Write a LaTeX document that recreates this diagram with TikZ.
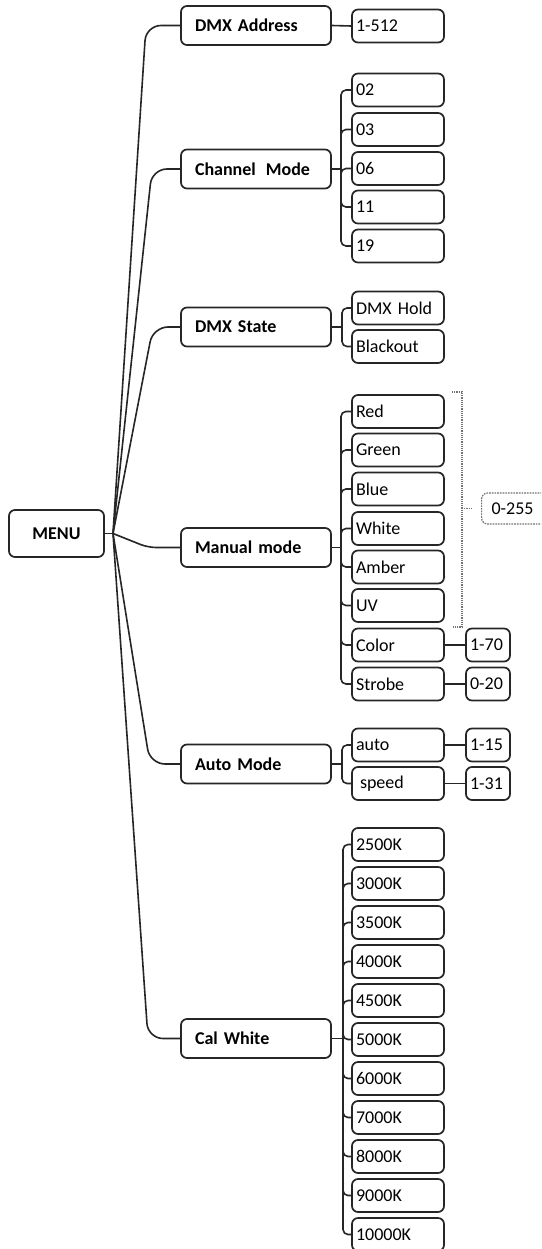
\documentclass[tikz,border=0pt]{standalone}
\usepackage{fontspec}
\setmainfont{Carlito}
\begin{document}
\begin{tikzpicture}[x=1pt,y=-1pt]
\tikzset{
  box/.style={draw=black!85, line width=1.7pt, rounded corners=6pt, align=left, anchor=center, font=\fontsize{18}{20}\selectfont},
  lvone/.style={box, text width=122pt, inner xsep=14pt, inner ysep=0pt, minimum height=39pt, font=\bfseries\fontsize{18}{20}\selectfont},
  lvtwo/.style={box, text width=84pt, inner xsep=4pt, inner ysep=0pt, minimum height=33pt},
  lvthree/.style={box, text width=36pt, inner xsep=4pt, inner ysep=0pt, minimum height=33pt},
  conn/.style={draw=black!85, line width=1.6pt},
  trunk/.style={conn, rounded corners=15pt},
  bus/.style={conn, rounded corners=5pt},
  brk/.style={draw=black!55, densely dotted, line width=1.2pt},
}
\useasboundingbox (0,0) rectangle (541,1249);
\clip (0,0) rectangle (541,1249);
\fill[white] (0,0) rectangle (541,1249);

% root
\node[box, align=center, minimum width=95pt, minimum height=47pt, inner sep=0pt, font=\bfseries\fontsize{18}{20}\selectfont] (menu) at (56.5,533.5) {MENU};

% level 1
\node[lvone] (da) at (256,25.5) {DMX Address};
\node[lvone] (cm) at (256,169) {Channel\hspace{10pt}Mode};
\node[lvone] (ds) at (256,327) {DMX State};
\node[lvone] (mm) at (256,547.5) {Manual mode};
\node[lvone] (am) at (256,764) {Auto Mode};
\node[lvone] (cw) at (256,1038.5) {Cal White};

% level 2
\node[lvtwo] (a512) at (398,26) {1-512};
\node[lvtwo] (c02) at (398,90) {02};
\node[lvtwo] (c03) at (398,129.5) {03};
\node[lvtwo] (c06) at (398,168.5) {06};
\node[lvtwo] (c11) at (398,207) {11};
\node[lvtwo] (c19) at (398,246) {19};
\node[lvtwo] (dh) at (398,308) {DMX Hold};
\node[lvtwo] (bo) at (398,346.5) {Blackout};
\node[lvtwo] (red) at (398,411.5) {Red};
\node[lvtwo] (green) at (398,450) {Green};
\node[lvtwo] (blue) at (398,489) {Blue};
\node[lvtwo] (white) at (398,528.5) {White};
\node[lvtwo] (amber) at (398,567) {Amber};
\node[lvtwo] (uv) at (398,605.5) {UV};
\node[lvtwo] (color) at (398,645) {Color};
\node[lvtwo] (strobe) at (398,684) {Strobe};
\node[lvtwo] (auto) at (398,745) {auto};
\node[lvtwo] (speed) at (398,783.5) {\hspace{4pt}speed};
\foreach \n/\t [count=\i from 0] in {k1/2500K,k2/3000K,k3/3500K,k4/4000K,k5/4500K,k6/5000K,k7/6000K,k8/7000K,k9/8000K,k10/9000K,k11/10000K}
  \node[lvtwo] (\n) at (398,844.5+39*\i) {\t};

% level 3
\node[lvthree] (v170) at (488,645) {1-70};
\node[lvthree] (v020) at (488,684) {0-20};
\node[lvthree] (v115) at (488,745) {1-15};
\node[lvthree] (v131) at (488,783.5) {1-31};
\node[box, draw=black!55, densely dotted, line width=1.2pt, text width=60pt, inner xsep=10pt, inner ysep=0pt, minimum height=31pt, anchor=west] (v0255) at (481,508.5) {0-255};

% trunk from MENU
\coordinate (mj) at (113,533.5);
\draw[conn] (menu.east) -- (mj);
\draw[trunk] (mj) -- (146,25.5) -- (da.west);
\draw[trunk] (mj) -- (152,169) -- (cm.west);
\draw[trunk] (mj) -- (153,327) -- (ds.west);
\draw[conn, rounded corners=8pt] (mj) -- (148,547.5) -- (mm.west);
\draw[trunk] (mj) -- (150,764) -- (am.west);
\draw[trunk] (mj) -- (148,1038.5) -- (cw.west);

% level 1 -> level 2
\draw[conn] (da.east) -- (a512.west);
\coordinate (cmb) at (341,169);
\draw[conn] (cm.east) -- (cmb);
\foreach \c in {c02,c03,c06,c11,c19} \draw[bus] (cmb) |- (\c.west);
\coordinate (dsb) at (342,327);
\draw[conn] (ds.east) -- (dsb);
\foreach \c in {dh,bo} \draw[bus] (dsb) |- (\c.west);
\coordinate (mmb) at (341,547.5);
\draw[conn] (mm.east) -- (mmb);
\foreach \c in {red,green,blue,white,amber,uv,color,strobe} \draw[bus] (mmb) |- (\c.west);
\coordinate (amb) at (342,764);
\draw[conn] (am.east) -- (amb);
\foreach \c in {auto,speed} \draw[bus] (amb) |- (\c.west);
\coordinate (cwb) at (343,1038.5);
\draw[conn] (cw.east) -- (cwb);
\foreach \c in {k1,k2,k3,k4,k5,k6,k7,k8,k9,k10,k11} \draw[bus] (cwb) |- (\c.west);

% level 2 -> level 3
\draw[conn] (color.east) -- (v170.west);
\draw[conn] (strobe.east) -- (v020.west);
\draw[conn] (auto.east) -- (v115.west);
\draw[conn] (speed.east) -- (v131.west);

% bracket for colour channels
\coordinate (bt) at (462,392);
\coordinate (bb) at (462,627);
\coordinate (bm) at (462,508.5);
\coordinate (bmt) at (472,508.5);
\draw[brk] (452,392) -- (bt) -- (bb) -- (452,627);
\draw[brk] (bm) -- (bmt);
\end{tikzpicture}
\end{document}
